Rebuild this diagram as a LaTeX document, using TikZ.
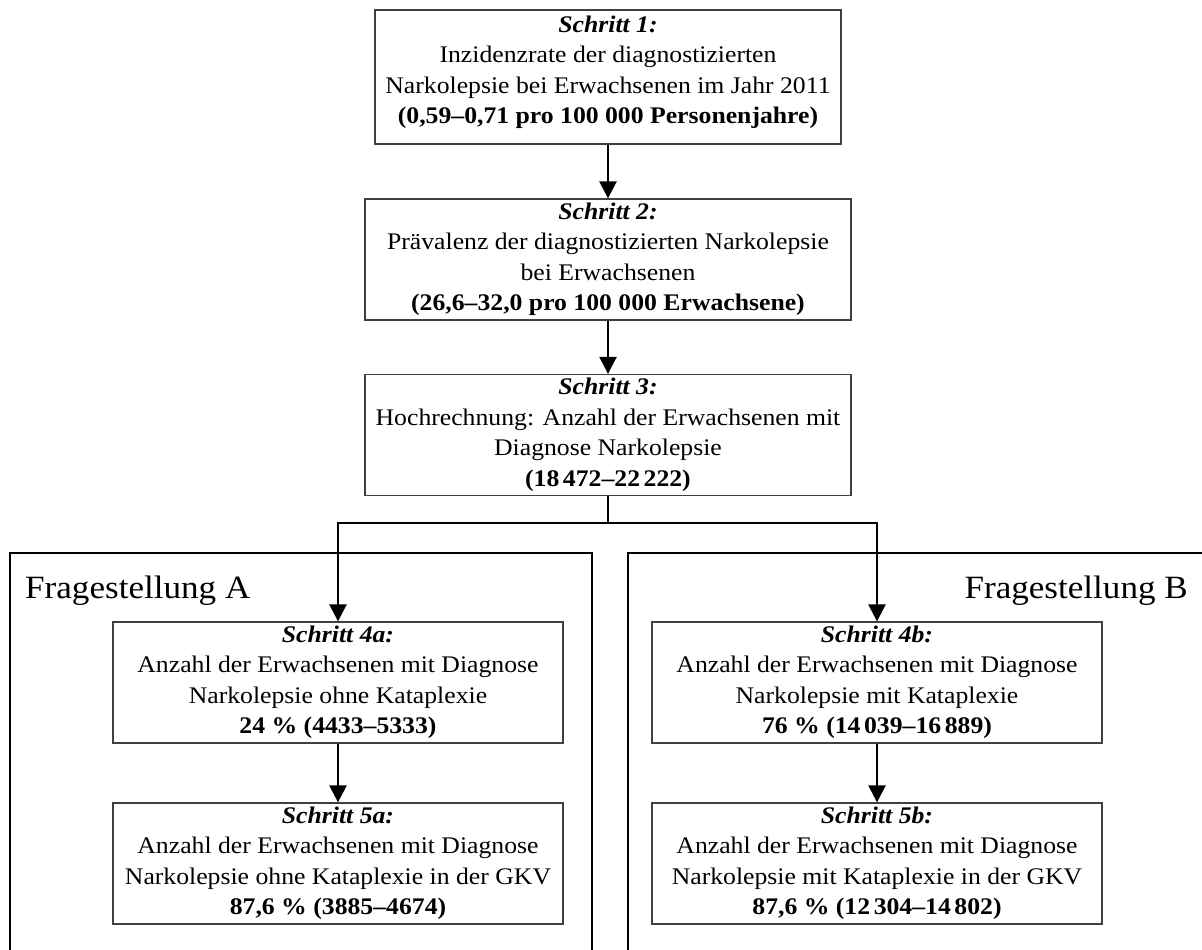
\documentclass[tikz,border=0pt]{standalone}
\usepackage{fontspec}
\setmainfont[FakeStretch=1.08]{Liberation Serif}
\usetikzlibrary{arrows.meta}
\newcommand{\stephead}[1]{\textbf{\textit{#1}}}
\begin{document}
\begin{tikzpicture}[x=1pt,y=-1pt,
  box/.style={draw=black!75, line width=1.3pt, align=center, inner sep=0pt,
    font=\fontsize{23.8}{30.5}\selectfont},
  upperbox/.style={box, minimum width=486pt, minimum height=121pt},
  lowerbox/.style={box, minimum width=450pt, minimum height=121pt},
  arr/.style={line width=2.5pt, -{Triangle[length=17pt,width=17pt]}},
  plainline/.style={line width=2.5pt},
  frame/.style={draw, line width=1.8pt},
  qlabel/.style={font=\fontsize{32.5}{38}\selectfont, inner sep=0pt}]
\useasboundingbox (0,0) rectangle (1202,950);
\clip (0,0) rectangle (1202,950);
\fill[white] (0,0) rectangle (1202,950);

% frames
\draw[frame] (10,970) |- (592,553) -- (592,970);
\draw[frame] (628,970) |- (1220,553);
\node[qlabel, anchor=base west] (fa) at (25,598) {Fragestellung A};
\node[qlabel, anchor=base east] (fb) at (1188,598) {Fragestellung B};

% boxes
\node[box, minimum width=466pt, minimum height=134pt, text depth=15pt] (s1) at (608,77)
  {\stephead{Schritt 1:}\\Inzidenzrate der diagnostizierten\\Narkolepsie bei Erwachsenen im Jahr 2011\\\textbf{(0,59–0,71 pro 100~000 Personenjahre)}};
\node[upperbox] (s2) at (608,259.5)
  {\stephead{Schritt 2:}\\Prävalenz der diagnostizierten Narkolepsie\\bei Erwachsenen\\\textbf{(26,6–32,0 pro 100~000 Erwachsene)}};
\node[upperbox] (s3) at (608,435)
  {\stephead{Schritt 3:}\\Hochrechnung: Anzahl der Erwachsenen mit\\Diagnose Narkolepsie\\\textbf{(18\hspace{0.15em}472–22\hspace{0.15em}222)}};
\node[lowerbox] (s4a) at (338,682.5)
  {\stephead{Schritt 4a:}\\Anzahl der Erwachsenen mit Diagnose\\Narkolepsie ohne Kataplexie\\\textbf{24 \% (4433–5333)}};
\node[lowerbox] (s4b) at (877,682.5)
  {\stephead{Schritt 4b:}\\Anzahl der Erwachsenen mit Diagnose\\Narkolepsie mit Kataplexie\\\textbf{76 \% (14\hspace{0.15em}039–16\hspace{0.15em}889)}};
\node[lowerbox] (s5a) at (338,863.5)
  {\stephead{Schritt 5a:}\\Anzahl der Erwachsenen mit Diagnose\\Narkolepsie ohne Kataplexie in der GKV\\\textbf{87,6 \% (3885–4674)}};
\node[lowerbox] (s5b) at (877,863.5)
  {\stephead{Schritt 5b:}\\Anzahl der Erwachsenen mit Diagnose\\Narkolepsie mit Kataplexie in der GKV\\\textbf{87,6 \% (12\hspace{0.15em}304–14\hspace{0.15em}802)}};

% connectors
\draw[arr] (s1.south) -- (s2.north);
\draw[arr] (s2.south) -- (s3.north);
\coordinate (j) at (608,523);
\draw[plainline] (s3.south) -- (j);
\draw[arr] (j) -| (s4a.north);
\draw[arr] (j) -| (s4b.north);
\draw[arr] (s4a.south) -- (s5a.north);
\draw[arr] (s4b.south) -- (s5b.north);
\end{tikzpicture}
\end{document}
